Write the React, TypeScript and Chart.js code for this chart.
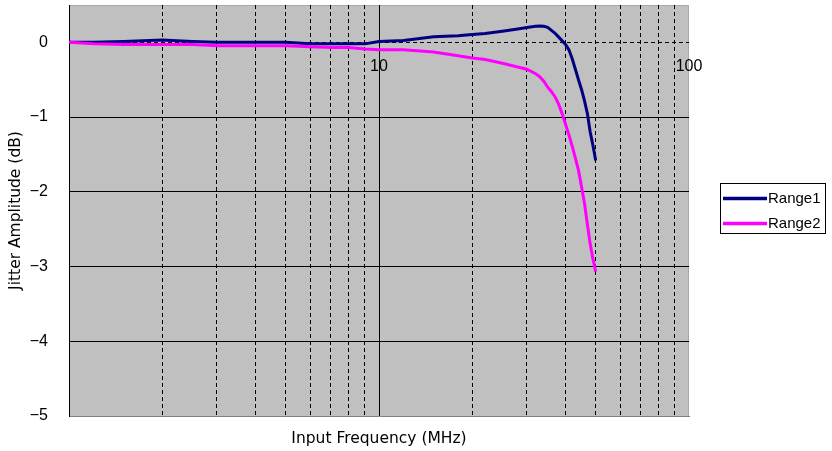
import React, { useEffect, useRef } from "react";
import { Chart, registerables } from "chart.js";

Chart.register(...registerables);

// ---- data ----
const freqMHz = [1, 1.2, 1.5, 2, 2.5, 3, 4, 5, 6, 7, 8, 9, 10, 12, 15, 18, 20, 22, 25, 28, 30, 32, 33, 34, 35, 36, 37, 38, 39, 40, 41, 42, 43, 44, 45, 46, 47, 48, 49, 50];
const range1 = [0.0, 0.0, 0.01, 0.03, 0.01, 0.0, 0.0, 0.0, -0.02, -0.02, -0.02, -0.02, 0.01, 0.025, 0.075, 0.09, 0.105, 0.12, 0.15, 0.18, 0.2, 0.215, 0.22, 0.215, 0.2, 0.16, 0.12, 0.07, 0.02, -0.03, -0.1, -0.22, -0.36, -0.5, -0.63, -0.78, -0.95, -1.2, -1.38, -1.58];
const range2 = [0.0, -0.02, -0.03, -0.03, -0.03, -0.045, -0.045, -0.045, -0.06, -0.07, -0.07, -0.09, -0.1, -0.1, -0.13, -0.18, -0.21, -0.23, -0.28, -0.33, -0.36, -0.42, -0.46, -0.52, -0.6, -0.66, -0.73, -0.83, -0.96, -1.1, -1.24, -1.39, -1.55, -1.71, -1.93, -2.15, -2.43, -2.7, -2.9, -3.07];
const seriesNames = ["Range1", "Range2"];
const seriesColors = ["#000080", "#FF00FF"];
const xGridValues = [1, 2, 3, 4, 5, 6, 7, 8, 9, 10, 20, 30, 40, 50, 60, 70, 80, 90, 100];
const xLabelValues = [10, 100];
const yTickValues = [-5, -4, -3, -2, -1, 0];
const xTitle = "Input Frequency (MHz)";
const yTitle = "Jitter Amplitude (dB)";

const TICK_FONT = { family: "'Liberation Sans', Arial, sans-serif", size: 16 };
const TITLE_FONT = { family: "'DejaVu Sans', sans-serif", size: 15.5 };

export default function App() {
  const ref = useRef<HTMLCanvasElement>(null);

  useEffect(() => {
    document.body.style.margin = "0";
    const canvas = ref.current;
    if (!canvas) return;

    const plotBg = {
      id: "plotBg",
      beforeDraw(chart: any) {
        const { ctx, chartArea: a } = chart;
        ctx.save();
        ctx.fillStyle = "#C0C0C0";
        ctx.fillRect(a.left, a.top, a.right - a.left, a.bottom - a.top);
        ctx.strokeStyle = "#A8A8A8";
        ctx.lineWidth = 1;
        ctx.beginPath();
        ctx.moveTo(a.left, Math.round(a.top) + 0.5);
        ctx.lineTo(Math.round(a.right) - 0.5, Math.round(a.top) + 0.5);
        ctx.lineTo(Math.round(a.right) - 0.5, a.bottom);
        ctx.stroke();
        ctx.restore();
      },
    };

    const xLabels = {
      id: "xLabels",
      afterDraw(chart: any) {
        const { ctx } = chart;
        const xs = chart.scales.x;
        const ys = chart.scales.y;
        const y0 = ys.getPixelForValue(0);
        ctx.save();
        ctx.fillStyle = "#000";
        ctx.font = `${TICK_FONT.size}px ${TICK_FONT.family}`;
        ctx.textAlign = "center";
        ctx.textBaseline = "alphabetic";
        for (const v of xLabelValues) {
          ctx.fillText(String(v), xs.getPixelForValue(v), y0 + 28.5);
        }
        ctx.restore();
      },
    };

    const legendBox = {
      id: "legendBox",
      afterDraw(chart: any) {
        const { ctx } = chart;
        const bx = 720.5, by = 183.5, bw = 105, bh = 50;
        ctx.save();
        ctx.fillStyle = "#fff";
        ctx.fillRect(bx, by, bw, bh);
        ctx.strokeStyle = "#000";
        ctx.lineWidth = 1;
        ctx.strokeRect(bx, by, bw, bh);
        ctx.font = `15px ${TICK_FONT.family}`;
        ctx.textBaseline = "middle";
        ctx.textAlign = "left";
        chart.data.datasets.forEach((ds: any, i: number) => {
          const y = 198.5 + i * 25;
          ctx.strokeStyle = ds.borderColor;
          ctx.lineWidth = 3.5;
          ctx.beginPath();
          ctx.moveTo(723, y);
          ctx.lineTo(767, y);
          ctx.stroke();
          ctx.fillStyle = "#000";
          ctx.fillText(ds.label, 768, y + 0.5);
        });
        ctx.restore();
      },
    };

    const chart = new Chart(canvas, {
      type: "line",
      data: {
        datasets: [
          {
            label: seriesNames[0],
            data: freqMHz.map((f, i) => ({ x: f, y: range1[i] })),
            borderColor: seriesColors[0],
            backgroundColor: seriesColors[0],
            borderWidth: 3,
            pointRadius: 0,
            tension: 0,
            order: 1,
          },
          {
            label: seriesNames[1],
            data: freqMHz.map((f, i) => ({ x: f, y: range2[i] })),
            borderColor: seriesColors[1],
            backgroundColor: seriesColors[1],
            borderWidth: 3,
            pointRadius: 0,
            tension: 0,
            order: 0,
          },
        ],
      },
      options: {
        animation: false,
        responsive: false,
        devicePixelRatio: 1,
        events: [],
        layout: { padding: { left: 0, right: 143, top: 5, bottom: 0 } },
        plugins: {
          legend: { display: false },
          tooltip: { enabled: false },
        },
        scales: {
          x: {
            type: "logarithmic",
            position: "bottom",
            min: 1,
            max: 100,
            afterBuildTicks: (s: any) => {
              s.ticks = xGridValues.map((v) => ({ value: v }));
            },
            afterFit: (s: any) => {
              s.height = 35;
              s.paddingLeft = 0;
              s.paddingRight = 0;
            },
            ticks: { display: false },
            grid: {
              drawTicks: false,
              lineWidth: 1,
              color: (c: any) =>
                c.tick && (c.tick.value === 1 || c.tick.value === 100) ? "rgba(0,0,0,0)" : "#000",
            },
            border: {
              display: true,
              color: "#808080",
              width: 1,
              dash: (c: any) => (c.tick && c.tick.value !== 10 ? [4, 3] : []),
            },
            title: {
              display: true,
              text: xTitle,
              color: "#000",
              font: TITLE_FONT,
              padding: { top: 0, bottom: 3 },
            },
          },
          y: {
            type: "linear",
            position: "left",
            min: -5,
            max: 0.5,
            afterBuildTicks: (s: any) => {
              s.ticks = yTickValues.map((v) => ({ value: v }));
            },
            afterFit: (s: any) => {
              s.width = 69;
              s.paddingTop = 0;
              s.paddingBottom = 0;
            },
            ticks: {
              color: "#000",
              font: TICK_FONT,
              padding: 21,
              callback: (v: any) => (Number(v) < 0 ? "\u2212" + Math.abs(Number(v)) : String(v)),
            },
            grid: {
              drawTicks: false,
              lineWidth: 1,
              color: (c: any) => (c.tick && c.tick.value === -5 ? "rgba(0,0,0,0)" : "#000"),
            },
            border: {
              display: true,
              color: "#000",
              width: 1,
              dash: (c: any) => (c.tick && c.tick.value === 0 ? [4, 3] : []),
            },
            title: {
              display: true,
              text: yTitle,
              color: "#000",
              font: TITLE_FONT,
              padding: { top: 7, bottom: 0 },
            },
          },
        },
      },
      plugins: [plotBg, xLabels, legendBox],
    });

    return () => chart.destroy();
  }, []);

  return (
    <div style={{ position: "absolute", left: 0, top: 0, width: 832, height: 451, background: "#fff" }}>
      <canvas ref={ref} width={832} height={451} style={{ display: "block", width: 832, height: 451 }} />
    </div>
  );
}
